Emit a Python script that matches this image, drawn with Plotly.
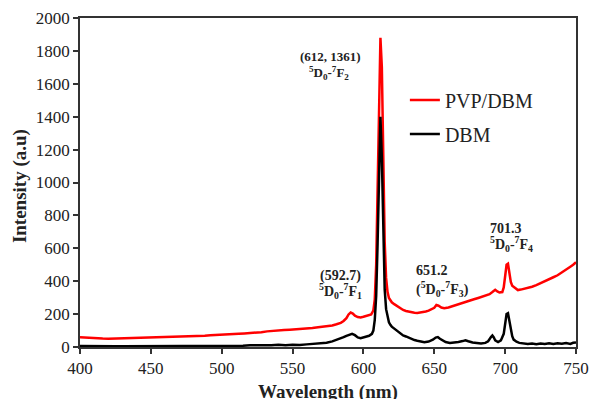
import plotly.graph_objects as go

# PVP/DBM spectrum (wavelength nm, intensity a.u.)
pvp_wl = [400, 404, 408, 412, 416, 420, 424, 428, 432, 436, 440, 444, 448, 452, 456, 460,
          464, 468, 472, 476, 480, 484, 488, 492, 496, 500, 504, 508, 512, 516, 520, 524,
          528, 532, 536, 540, 544, 548, 552, 556, 560, 564, 568, 572, 575, 578, 581, 584,
          586, 588, 589.5, 591, 592.5, 594, 596, 598, 600, 602, 604, 605.5, 607, 608, 609,
          610, 611, 612, 613, 614, 615, 616, 617, 618, 619, 620, 622, 624, 626, 628, 630,
          632, 634, 636, 638, 640, 642, 644, 646, 648, 650, 651.5, 653, 655, 657, 660, 663,
          666, 669, 672, 675, 678, 681, 684, 687, 689, 691, 693, 694.5, 696, 698, 699, 700,
          701, 702, 703, 704, 705, 707, 709, 711, 713, 716, 719, 722, 725, 728, 731, 734,
          737, 740, 743, 746, 748, 750]
pvp_int = [60, 57, 54, 53, 51, 50, 51, 50, 52, 53, 53, 55, 56, 57, 58, 60,
           61, 63, 64, 66, 67, 67, 69, 71, 72, 74, 76, 78, 80, 82, 84, 86,
           90, 95, 99, 101, 103, 105, 107, 109, 113, 116, 120, 124, 127, 131, 138, 147,
           158, 175, 198, 210, 203, 190, 182, 180, 184, 188, 192, 198, 222, 290, 500,
           900, 1480, 1880, 1700, 1150, 640, 420, 335, 298, 282, 272, 259, 247, 234, 225, 219,
           214, 210, 208, 207, 209, 212, 216, 221, 228, 238, 255, 251, 240, 236, 240, 249,
           256, 265, 272, 281, 290, 298, 307, 316, 321, 334, 348, 338, 331, 334, 362, 430,
           500, 506, 455, 395, 372, 356, 346, 349, 353, 361, 366, 376, 387, 402, 413, 424,
           436, 455, 470, 488, 500, 515]

# DBM spectrum
dbm_wl = [400, 405, 410, 415, 420, 425, 430, 435, 440, 445, 450, 455, 460, 465, 470, 475,
          480, 485, 490, 495, 500, 505, 510, 515, 520, 525, 530, 535, 540, 545, 550, 555,
          560, 565, 570, 574, 578, 581, 584, 586, 588, 590, 592, 594, 596, 598, 600, 602,
          604, 606, 607, 608, 609, 610, 611, 612, 613, 614, 615, 616, 617, 618, 619, 620,
          622, 624, 626, 628, 630, 632, 634, 636, 638, 640, 643, 646, 649, 651, 652.5, 654,
          656, 658, 661, 664, 667, 670, 672, 674, 677, 680, 683, 686, 688, 690, 691, 692,
          693, 695, 697, 699, 700, 701, 702, 703, 704, 705, 706, 708, 710, 713, 716, 719,
          722, 725, 728, 731, 734, 737, 740, 743, 746, 748, 750]
dbm_int = [6, 5, 6, 4, 5, 4, 5, 5, 6, 5, 6, 5, 7, 6, 7, 6,
           8, 7, 8, 7, 9, 8, 9, 8, 10, 9, 11, 10, 13, 11, 14, 12,
           16, 18, 22, 26, 34, 42, 52, 60, 68, 76, 80, 72, 58, 54, 58, 64,
           68, 80, 100, 165, 310, 630, 1100, 1400, 1150, 650, 350, 230, 180, 150, 135, 124,
           110, 95, 82, 70, 64, 55, 49, 42, 38, 33, 29, 33, 44, 57, 60, 50,
           38, 30, 25, 27, 31, 36, 41, 35, 27, 24, 21, 25, 35, 60, 70, 58,
           40, 30, 40, 80, 150, 200, 205, 158, 100, 66, 45, 32, 25, 21, 18, 21,
           17, 21, 18, 22, 19, 23, 20, 24, 19, 26, 28]

series_names = ["PVP/DBM", "DBM"]
x_ticks = [400, 450, 500, 550, 600, 650, 700, 750]
y_ticks = [0, 200, 400, 600, 800, 1000, 1200, 1400, 1600, 1800, 2000]

SERIF = "Liberation Serif"
TXT = "#222222"

fig = go.Figure()
fig.add_trace(go.Scatter(x=pvp_wl, y=pvp_int, mode="lines", name=series_names[0],
                         line=dict(color="#ff0000", width=2.5), legendgroup="a"))
fig.add_trace(go.Scatter(x=dbm_wl, y=dbm_int, mode="lines", name=series_names[1],
                         line=dict(color="#000000", width=2.5), legendgroup="b"))

ann = [
    (576.5, 1765, "<b>(612, 1361)</b>", 13),
    (576, 1668, "<b><sup>5</sup>D<sub>0</sub>-<sup>7</sup>F<sub>2</sub></b>", 13),
    (583.5, 432, "<b>(592.7)</b>", 14),
    (583.5, 340, "<b><sup>5</sup>D<sub>0</sub>-<sup>7</sup>F<sub>1</sub></b>", 14),
    (648.2, 468, "<b>651.2</b>", 14),
    (656, 352, "<b>(<sup>5</sup>D<sub>0</sub>-<sup>7</sup>F<sub>3</sub>)</b>", 14),
    (700.3, 722, "<b>701.3</b>", 14),
    (704.6, 626, "<b><sup>5</sup>D<sub>0</sub>-<sup>7</sup>F<sub>4</sub></b>", 14),
]
annotations = [dict(x=xv, y=yv, xref="x", yref="y", text=t, showarrow=False,
                    font=dict(family=SERIF, size=s, color=TXT),
                    xanchor="center", yanchor="middle")
               for (xv, yv, t, s) in ann]

# axis titles
annotations.append(dict(x=0.5, y=-0.137, xref="paper", yref="paper",
                        text="<b>Wavelength (nm)</b>", showarrow=False,
                        font=dict(family=SERIF, size=19, color=TXT),
                        xanchor="center", yanchor="middle"))
annotations.append(dict(x=-0.121, y=0.489, xref="paper", yref="paper",
                        text="<b>Intensity (a.u)</b>", showarrow=False, textangle=-90,
                        font=dict(family=SERIF, size=19, color=TXT),
                        xanchor="center", yanchor="middle"))

axis_common = dict(showline=True, linecolor="#333333", linewidth=1.5, mirror=True,
                   ticks="outside", ticklen=5, tickwidth=1.5, tickcolor="#333333",
                   showgrid=False, zeroline=False, automargin=False,
                   tickfont=dict(family=SERIF, size=17, color=TXT))

fig.update_layout(
    width=590, height=399,
    margin=dict(l=80, r=14, t=18, b=52),
    plot_bgcolor="white", paper_bgcolor="white",
    font=dict(family=SERIF, color=TXT),
    xaxis=dict(range=[400, 750], tickvals=x_ticks, **axis_common),
    yaxis=dict(range=[0, 2000], tickvals=y_ticks, **axis_common),
    legend=dict(x=0.655, y=0.81, xanchor="left", yanchor="top",
                font=dict(family=SERIF, size=20, color=TXT),
                bgcolor="rgba(0,0,0,0)", tracegroupgap=5, itemwidth=30),
    annotations=annotations,
)

# remove the default page margin so the figure fills the window exactly
fig.write_html("out.html",
               config={"displayModeBar": False},
               post_script="document.body.style.margin='0';document.body.style.overflow='hidden';")
